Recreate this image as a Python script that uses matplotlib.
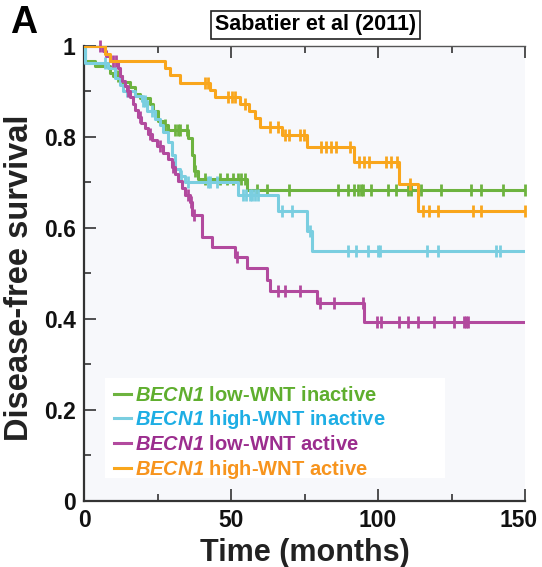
import numpy as np
import matplotlib
matplotlib.use('Agg')
import matplotlib.pyplot as plt
from matplotlib.ticker import MultipleLocator
from matplotlib.patches import Rectangle
from matplotlib.transforms import ScaledTranslation

plt.rcParams['font.family'] = ['Liberation Sans', 'DejaVu Sans']
plt.rcParams['font.weight'] = 'bold'
plt.rcParams['mathtext.fontset'] = 'custom'
plt.rcParams['mathtext.it'] = 'Liberation Sans:italic:bold'
plt.rcParams['mathtext.rm'] = 'Liberation Sans:italic:bold'

# event times (months) and survival after each event
green_t = [0.3, 3.8, 8.9, 9.9, 13, 15.7, 17.4, 19.1, 22.5, 23.5, 25.2, 26.9, 28.6, 35.5, 36.8, 37.5, 38.9, 55.6]
green_s = [0.967, 0.956, 0.941, 0.934, 0.92, 0.909, 0.895, 0.886, 0.873, 0.857, 0.835, 0.826, 0.815, 0.798, 0.76, 0.725, 0.708, 0.684]
green_c = [11.6, 12.3, 27.6, 31, 32, 32.7, 35.1, 37.8, 41.3, 46.4, 48.8, 50.8, 52.5, 53.5, 54.6, 59, 62.4, 69.6,
           86.3, 89.7, 91.7, 93.1, 94.1, 94.8, 97.5, 103.3, 106, 110.1, 111.1, 114.6, 121.4, 131.6, 135, 142.5, 150]

cyan_t = [0.3, 8.2, 10.6, 12.3, 13.3, 17.4, 19.8, 21.5, 24.2, 25.9, 26.9, 28.6, 30, 31, 32.7, 34.4, 52.5, 66.1, 76, 77.7]
cyan_s = [0.963, 0.952, 0.93, 0.914, 0.901, 0.89, 0.879, 0.857, 0.84, 0.826, 0.81, 0.79, 0.76, 0.73, 0.715, 0.701, 0.673, 0.637, 0.593, 0.549]
cyan_c = [7.2, 14.7, 20.1, 20.8, 23.2, 33.1, 35.5, 42.3, 43, 45.3, 54.2, 55.2, 56.3, 57.3, 58.3, 59.3, 67.5, 70.9, 77,
          89.7, 92.4, 96.5, 99.9, 100.6, 116.6, 120.4, 140.1, 141.5]

mag_t = [6.5, 7.5, 8.9, 11.6, 12.3, 13, 14, 14.7, 15.7, 16.7, 17.4, 18.4, 19.4, 20.8, 21.8, 23.2, 24.9, 26.9, 28.6, 30,
         31, 32, 33.4, 34.4, 36.1, 36.8, 40.2, 43.6, 51.5, 55.6, 62.4, 63.1, 79.4, 95.1]
mag_s = [0.989, 0.978, 0.967, 0.952, 0.934, 0.923, 0.912, 0.901, 0.888, 0.873, 0.859, 0.844, 0.831, 0.82, 0.807, 0.793,
         0.78, 0.765, 0.752, 0.734, 0.719, 0.703, 0.688, 0.672, 0.657, 0.629, 0.58, 0.558, 0.536, 0.512, 0.486, 0.462, 0.435, 0.393]
mag_c = [5.5, 9.9, 10.9, 15, 19.1, 22.5, 25.9, 30.3, 35.5, 36.5, 37.5, 52, 66.1, 68.5, 73.6, 80.1, 84.9, 94.8, 99.6,
         100.9, 107, 110.1, 113.5, 119, 125.8, 129.2, 129.9, 130.6]

orange_t = [7, 9, 27.6, 29.3, 32.7, 43, 44.7, 53.2, 56, 58.3, 60, 67.5, 75.7, 91.7, 107, 113.5]
orange_s = [0.983, 0.967, 0.952, 0.936, 0.919, 0.903, 0.888, 0.873, 0.857, 0.842, 0.822, 0.804, 0.778, 0.745, 0.697, 0.637]
orange_c = [41.3, 42.3, 49.1, 50.5, 51.5, 54.9, 63.4, 66.1, 68.5, 69.6, 73.6, 74.7, 80.5, 82.2, 83.9, 85.6, 90.4, 93.4,
            95.1, 96.8, 102.6, 104.3, 106.5, 111, 115.2, 117.3, 120.4, 132.3, 135, 150]

labels = [r'$BECN1$ low-WNT inactive', r'$BECN1$ high-WNT inactive',
          r'$BECN1$ low-WNT active', r'$BECN1$ high-WNT active']
line_colors = ['#6db33f', '#7acee0', '#b24a9e', '#f9a61c']
text_colors = ['#5fae2e', '#1eaee4', '#9b2d8e', '#f7941d']

curves = [(green_t, green_s, green_c), (cyan_t, cyan_s, cyan_c),
          (mag_t, mag_s, mag_c), (orange_t, orange_s, orange_c)]

fig = plt.figure(figsize=(5.42, 5.67), dpi=100)
ax = fig.add_axes([0.155, 0.1164, 0.8137, 0.8025])
ax.set_facecolor('#f7f8fb')

handles = []
for (t, s, c), col, lab in zip(curves, line_colors, labels):
    tt = np.concatenate([[0], t, [150]])
    ss = np.concatenate([[1.0], s, [s[-1]]])
    h, = ax.step(tt, ss, where='post', color=col, lw=2.2, label=lab, zorder=3)
    cy = ss[np.searchsorted(tt, c, side='right') - 1]
    ax.plot(c, cy, ls='none', marker='|', ms=9, mew=2, color=col, zorder=3, clip_on=False)
    handles.append(h)

ax.set_xlim(0, 150)
ax.set_ylim(0, 1)
ax.set_xticks([0, 50, 100, 150])
ax.xaxis.set_minor_locator(MultipleLocator(25))
ax.yaxis.set_minor_locator(MultipleLocator(0.1))
ax.set_yticks([0, 0.2, 0.4, 0.6, 0.8, 1.0])
ax.set_yticklabels(['0', '0.2', '0.4', '0.6', '0.8', '1'])
ax.tick_params(which='both', direction='in', top=True, right=False, labelsize=16.5, colors='#333333')
ax.tick_params(axis='x', which='major', length=8.5, width=1.2, pad=6)
ax.tick_params(axis='y', which='major', length=8.5, width=1.2, pad=6)
ax.tick_params(which='minor', length=5, width=1.2)
for lab in ax.get_xticklabels() + ax.get_yticklabels():
    lab.set_color('#111111')
    lab.set_fontweight('bold')
# the last x label sits a little left of its tick, as in the original
last = ax.get_xticklabels()[-1]
last.set_transform(last.get_transform() + ScaledTranslation(-5 / 72, 0, fig.dpi_scale_trans))

ax.spines['right'].set_visible(False)
ax.spines['top'].set_color('#555555')
ax.spines['top'].set_linewidth(1.0)
for sp in ['left', 'bottom']:
    ax.spines[sp].set_color('#333333')
    ax.spines[sp].set_linewidth(1.6)

ax.set_xlabel('Time (months)', fontsize=22, fontweight='bold', color='#222222', labelpad=4)
ax.set_ylabel('Disease-free survival', fontsize=23.5, fontweight='bold', color='#222222')
ax.yaxis.set_label_coords(-0.112, 0.49)

# white box behind the legend
ax.add_patch(Rectangle((0.048, 0.05), 0.771, 0.22, transform=ax.transAxes, facecolor='white',
                       edgecolor='none', zorder=4))
leg = ax.legend(handles=handles, loc='lower left', bbox_to_anchor=(0.058, 0.036), frameon=False,
                fontsize=14.5, handlelength=0.85, handletextpad=0.2, labelspacing=0.18, borderpad=0.2,
                borderaxespad=0)
leg.set_zorder(5)
for txt, col in zip(leg.get_texts(), text_colors):
    txt.set_color(col)
    txt.set_fontweight('bold')

fig.text(0.582, 0.956, 'Sabatier et al (2011)', ha='center', va='center', fontsize=15.5, fontweight='bold',
         bbox=dict(boxstyle='square,pad=0.18', facecolor='white', edgecolor='#222222', lw=1.2))
fig.text(0.018, 0.96, 'A', ha='left', va='center', fontsize=27, fontweight='bold')

fig.savefig('out.png', dpi=100)
